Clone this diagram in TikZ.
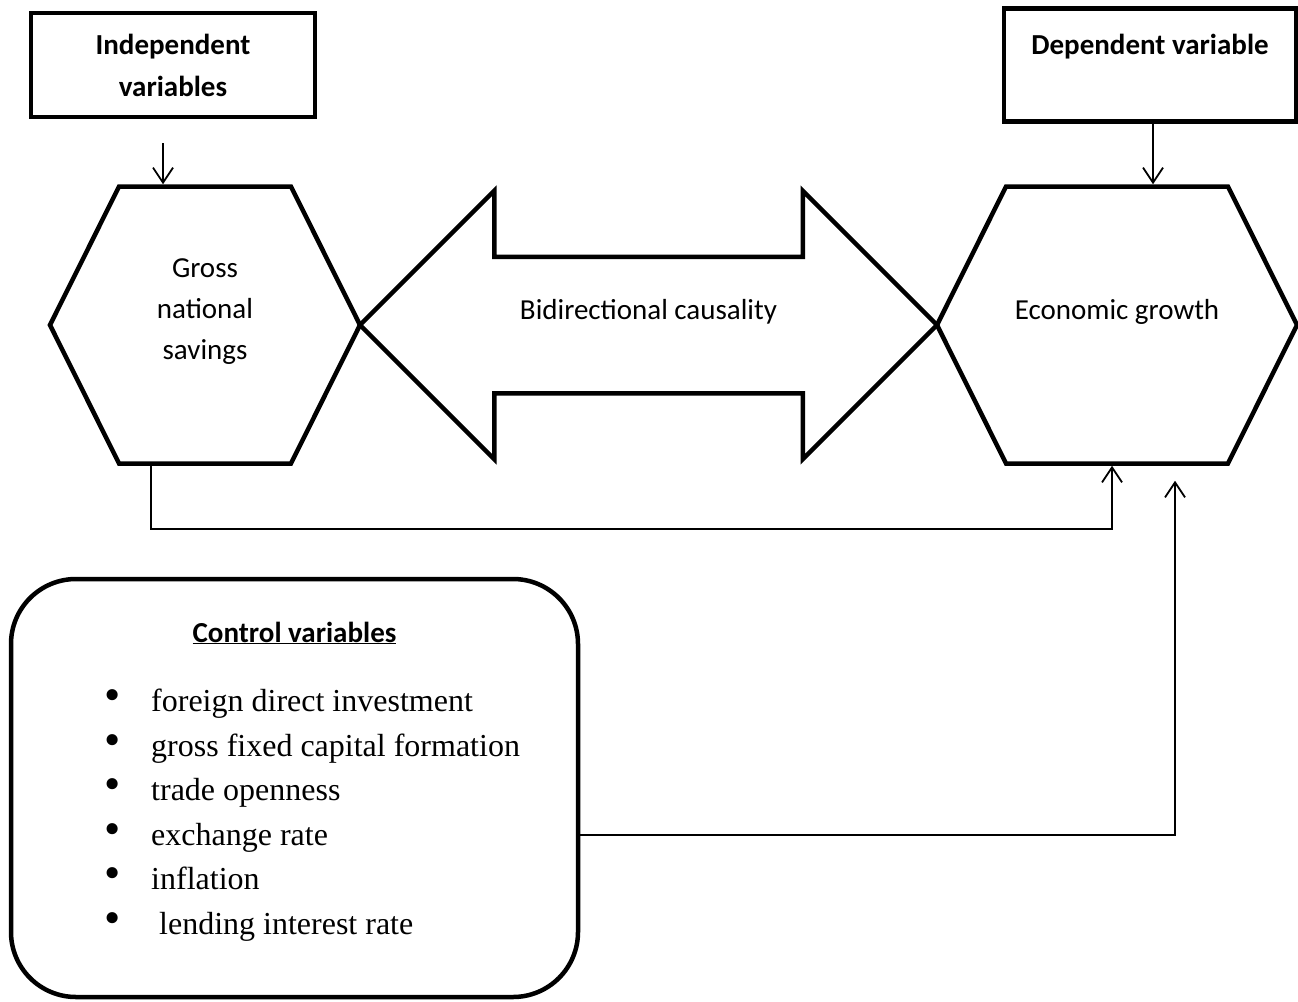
\documentclass[tikz,border=0pt]{standalone}
\usepackage{fontspec}
\setmainfont{Liberation Serif}
\newfontfamily\calibri{Carlito}
\usetikzlibrary{shapes.symbols,shapes.arrows,arrows.meta}
\pgfdeclarelayer{nodelayer}
\pgfdeclarelayer{edgelayer}
\pgfsetlayers{edgelayer,nodelayer,main}
\newcommand{\blt}{\makebox[47pt][l]{\raisebox{1pt}{\scalebox{1.45}{\textbullet}}}}
\tikzstyle{label box}=[draw=black, line width=4.5pt, shape=rectangle, align=center, inner sep=0pt, font={\calibri\bfseries\fontsize{29}{42}\selectfont}]
\tikzstyle{hexagon}=[draw=black, line width=4.5pt, shape=signal, signal to=east and west, signal pointer angle=127, minimum width=310pt, minimum height=277pt, inner sep=0pt]
\tikzstyle{big arrow}=[draw=black, line width=4.5pt, shape=double arrow, double arrow tip angle=90, double arrow head extend=66pt, double arrow head indent=0pt, minimum height=577pt, minimum width=264pt, inner xsep=0pt, inner ysep=66pt]
\tikzstyle{round box}=[draw=black, line width=4.5pt, shape=rectangle, rounded corners=65pt, minimum width=567pt, minimum height=418pt, inner sep=0pt]
\tikzstyle{text only}=[draw=none, align=center, inner sep=0pt, font={\calibri\fontsize{29}{41}\selectfont}]
\tikzstyle{list}=[draw=none, align=left, inner sep=0pt, font={\fontsize{32}{44.5}\selectfont}]
\tikzstyle{link}=[draw=black, line width=1.8pt, -{Straight Barb[length=15pt,width=20pt]}]

\begin{document}
\begin{tikzpicture}[x=1pt, y=-1pt]
	\useasboundingbox (0,0) rectangle (1298,1001);
	\begin{pgfonlayer}{nodelayer}
		\node [style=label box, minimum width=284pt, minimum height=104pt] (iv) at (173, 65) {Independent\\variables};
		\node [style=label box, minimum width=292pt, minimum height=113pt] (dv) at (1150, 65) {Dependent variable\\ \mbox{}};
		\node [style=hexagon] (gns) at (205, 325) {};
		\node [style=hexagon, minimum width=360pt] (eg) at (1117, 325) {};
		\node [style=big arrow] (bic) at (648.5, 325) {};
		\node [style=text only] (gnstext) at (205, 312) {Gross\\national\\savings};
		\node [style=text only] (egtext) at (1117, 312) {Economic growth};
		\node [style=text only] (bictext) at (648.5, 312) {Bidirectional causality};
		\node [style=round box] (cv) at (294.5, 788) {};
		\node [style=text only, font={\calibri\bfseries\fontsize{29}{35}\selectfont}, anchor=base] (cvtitle) at (294.5, 642) {\underline{Control variables}};
		\node [style=list, anchor=north west] (cvlist) at (104, 689) {\blt foreign direct investment\\
			\blt gross fixed capital formation\\
			\blt trade openness\\
			\blt exchange rate\\
			\blt inflation\\
			\blt\ lending interest rate};
		\coordinate (ivtail) at (163, 143);
	\end{pgfonlayer}
	\begin{pgfonlayer}{edgelayer}
		\draw [style=link] (ivtail) to (ivtail |- gns.north);
		\draw [style=link] ([xshift=3pt]dv.south) to ([xshift=3pt]dv.south |- eg.north);
		\draw [style=link] ([xshift=-54pt]gns.south) -- ++(0, 63) -| ([xshift=-5pt]eg.south);
		\draw [style=link] ([yshift=-47pt]cv.east) -| ([shift={(58, 15)}]eg.south);
	\end{pgfonlayer}
\end{tikzpicture}
\end{document}
